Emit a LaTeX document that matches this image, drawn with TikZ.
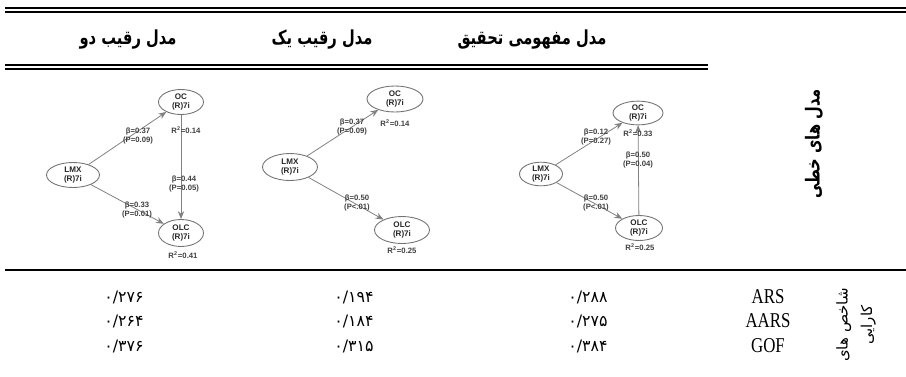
\documentclass[tikz,border=0pt]{standalone}
\usepackage{fontspec}
\usepackage{graphicx}
\usepackage{tikz}
\usetikzlibrary{shapes.geometric,arrows.meta}
\setmainfont{Liberation Serif}
\newfontfamily\fafont[Script=Arabic]{DejaVu Sans}
\newfontfamily\lblfont{Liberation Sans}
\TeXXeTstate=1
\newcommand{\rtl}[1]{\beginR#1\endR}
\newcommand{\narrow}[1]{\scalebox{0.76}[1]{#1}}

\begin{document}
\begin{tikzpicture}[x=0.02cm, y=-0.02cm,
		construct/.style={
			ellipse, draw=black!55, line width=0.5pt, inner sep=0pt, align=center,
			text=black!85, font=\lblfont\bfseries\fontsize{4.6}{5.4}\selectfont
			},
		link/.style={
			draw=black!50, line width=0.45pt, -{Stealth[length=4.5pt,width=3.6pt]}
			},
		coef/.style={
			align=center, inner sep=0pt, text=black!75,
			font=\lblfont\bfseries\fontsize{4.4}{5.2}\selectfont
			},
		head/.style={font=\fafont\bfseries\fontsize{11}{13}\selectfont},
		val/.style={font=\fafont\fontsize{9}{11}\selectfont},
		idx/.style={font=\fontsize{12}{14}\selectfont},
		rule/.style={line width=1pt, color=black}
		]
		
		\useasboundingbox (0,0) rectangle (906,376);
		
		% table rules
		\draw[rule] (5,8) -- (906,8) (5,12) -- (906,12);
		\draw[rule] (5,65) -- (708,65) (5,69) -- (708,69);
		\draw[rule, line width=1.3pt] (5,270) -- (906,270);
		
		% column heads
		\path (532,40) node[head] (hconc) {\narrow{\rtl{مدل مفهومی تحقیق}}};
		\path (322,40) node[head] (hone) {\narrow{\rtl{مدل رقیب یک}}};
		\path (128,40) node[head] (htwo) {\narrow{\rtl{مدل رقیب دو}}};
		\path (814,144) node[head, rotate=90] (hlin) {\narrow{\rtl{مدل های خطی}}};
		
		% rival model two
		\begin{scope}[shift={(73,175)}]
			\node[construct, minimum width=1.06cm, minimum height=0.5cm] (lmx2) at (0,0) {LMX\\(R)7i};
			\node[construct, minimum width=0.9cm, minimum height=0.5cm] (oc2) at (108,-73) {OC\\(R)7i};
			\node[construct, minimum width=0.9cm, minimum height=0.54cm] (olc2) at (108,58) {OLC\\(R)7i};
			\draw[link] (lmx2) -- (oc2);
			\draw[link] (lmx2) -- (olc2);
			\draw[link] (oc2) -- (olc2);
			\node[coef] (b2a) at (65,-39) {β=0.37\\(P=0.09)};
			\node[coef] (b2b) at (111,9) {β=0.44\\(P=0.05)};
			\node[coef] (b2c) at (64,35) {β=0.33\\(P=0.01)};
			\node[coef] (r2a) at (113,-45) {R\textsuperscript{2}=0.14};
			\node[coef] (r2b) at (110,80) {R\textsuperscript{2}=0.41};
		\end{scope}
		
		% rival model one
		\begin{scope}[shift={(290,167)}]
			\node[construct, minimum width=1.1cm, minimum height=0.54cm] (lmx1) at (0,0) {LMX\\(R)7i};
			\node[construct, minimum width=1.12cm, minimum height=0.52cm] (oc1) at (105,-68) {OC\\(R)7i};
			\node[construct, minimum width=1.1cm, minimum height=0.54cm] (olc1) at (112,63) {OLC\\(R)7i};
			\draw[link] (lmx1) -- (oc1);
			\draw[link] (lmx1) -- (olc1);
			\node[coef] (b1a) at (62,-40) {β=0.37\\(P=0.09)};
			\node[coef] (b1b) at (67,36) {β=0.50\\(P<.01)};
			\node[coef] (r1a) at (105,-44) {R\textsuperscript{2}=0.14};
			\node[coef] (r1b) at (112,83) {R\textsuperscript{2}=0.25};
		\end{scope}
		
		% conceptual model
		\begin{scope}[shift={(541,174)}]
			\node[construct, minimum width=0.86cm, minimum height=0.46cm] (lmxc) at (0,0) {LMX\\(R)7i};
			\node[construct, minimum width=1.0cm, minimum height=0.44cm] (occ) at (97,-61) {OC\\(R)7i};
			\node[construct, minimum width=0.94cm, minimum height=0.5cm] (olcc) at (98,54) {OLC\\(R)7i};
			\draw[link] (lmxc) -- (occ);
			\draw[link] (lmxc) -- (olcc);
			\draw[link] (olcc) -- (occ);
			\node[coef] (bca) at (55,-37) {β=0.12\\(P=0.27)};
			\node[coef] (bcb) at (97,-14) {β=0.50\\(P=0.04)};
			\node[coef] (bcc) at (55,29) {β=0.50\\(P<.01)};
			\node[coef] (rca) at (97,-41) {R\textsuperscript{2}=0.33};
			\node[coef] (rcb) at (99,73) {R\textsuperscript{2}=0.25};
		\end{scope}
		
		% fit indices
		\path (856,325) node[font=\fafont\fontsize{8.5}{14}\selectfont, rotate=90, align=center] (hfit) {\rtl{شاخص های}\\\rtl{کارایی}};
		\path (768,297) node[idx] (ars) {\scalebox{0.8}[1]{ARS}};
		\path (768,321) node[idx] (aars) {\scalebox{0.8}[1]{AARS}};
		\path (768,346) node[idx] (gof) {\scalebox{0.8}[1]{GOF}};
		
		\path (588,297) node[val] (v11) {۰/۲۸۸};
		\path (354,297) node[val] (v12) {۰/۱۹۴};
		\path (124,297) node[val] (v13) {۰/۲۷۶};
		\path (588,321) node[val] (v21) {۰/۲۷۵};
		\path (354,321) node[val] (v22) {۰/۱۸۴};
		\path (124,321) node[val] (v23) {۰/۲۶۴};
		\path (588,346) node[val] (v31) {۰/۳۸۴};
		\path (354,346) node[val] (v32) {۰/۳۱۵};
		\path (124,346) node[val] (v33) {۰/۳۷۶};
		
	\end{tikzpicture}
\end{document}
